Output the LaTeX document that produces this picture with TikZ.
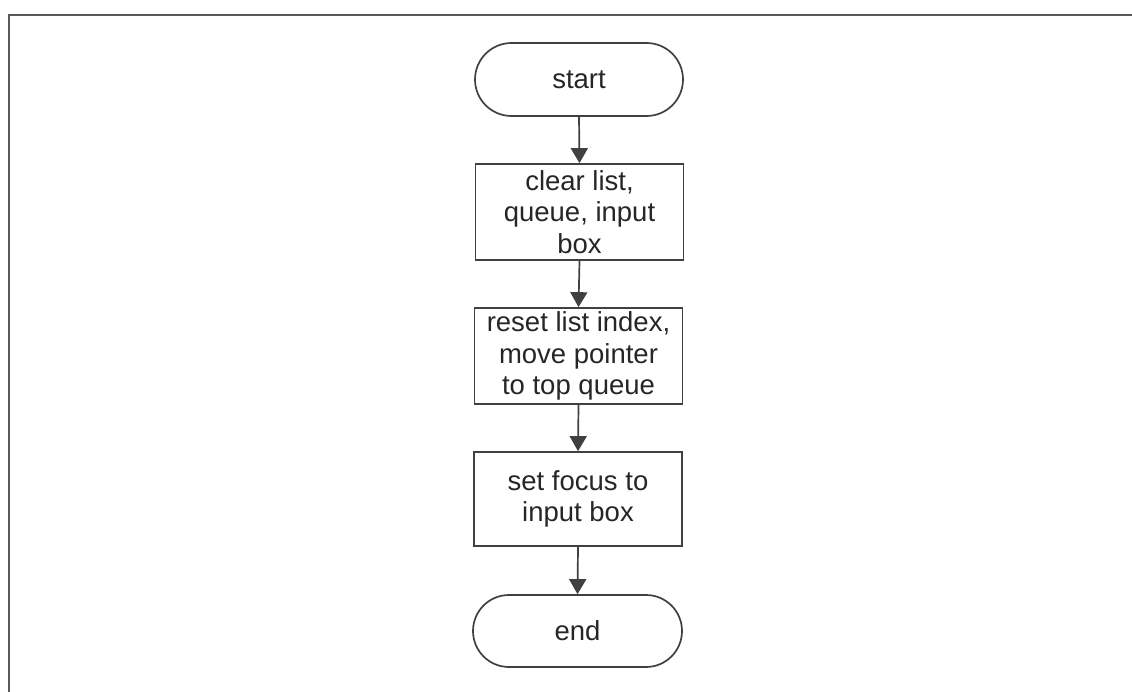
\documentclass[tikz,border=0pt]{standalone}
\usepackage{fontspec}
\setmainfont{Liberation Sans}
\usetikzlibrary{shapes.misc,arrows.meta}
\begin{document}
\begin{tikzpicture}[x=1pt,y=-1pt,
  line/.style={draw=black!75, line width=1.7pt},
  txt/.style={font=\fontsize{27.5}{31.5}\selectfont, text=black!85, align=center, inner sep=0pt},
  term/.style={rounded rectangle, line, txt, minimum width=208pt, minimum height=73pt},
  proc/.style={rectangle, line, txt, minimum width=208pt, minimum height=96pt},
  arr/.style={draw=black!75, line width=1.7pt, -{Triangle[length=15pt,width=17pt]}}]
\useasboundingbox (0,0) rectangle (1132,692);
\draw[draw=black!65, line width=2.2pt] (1132,15) -- (9,15) -- (9,692);
\node[term] (start) at (579,79.5) {start};
\node[proc] (clear) at (579.5,212) {clear list,\\queue, input\\box};
\node[proc] (reset) at (578.5,356) {reset list index,\\move pointer\\to top queue};
\node[proc, minimum height=94pt] (focus) at (578,499) {set focus to\\input box};
\node[term, minimum width=209pt, minimum height=72pt] (end) at (577.5,631) {end};
\draw[arr] (start.south) -- (clear.north);
\draw[arr] (clear.south) -- (reset.north);
\draw[arr] (reset.south) -- (focus.north);
\draw[arr] (focus.south) -- (end.north);
\end{tikzpicture}
\end{document}
